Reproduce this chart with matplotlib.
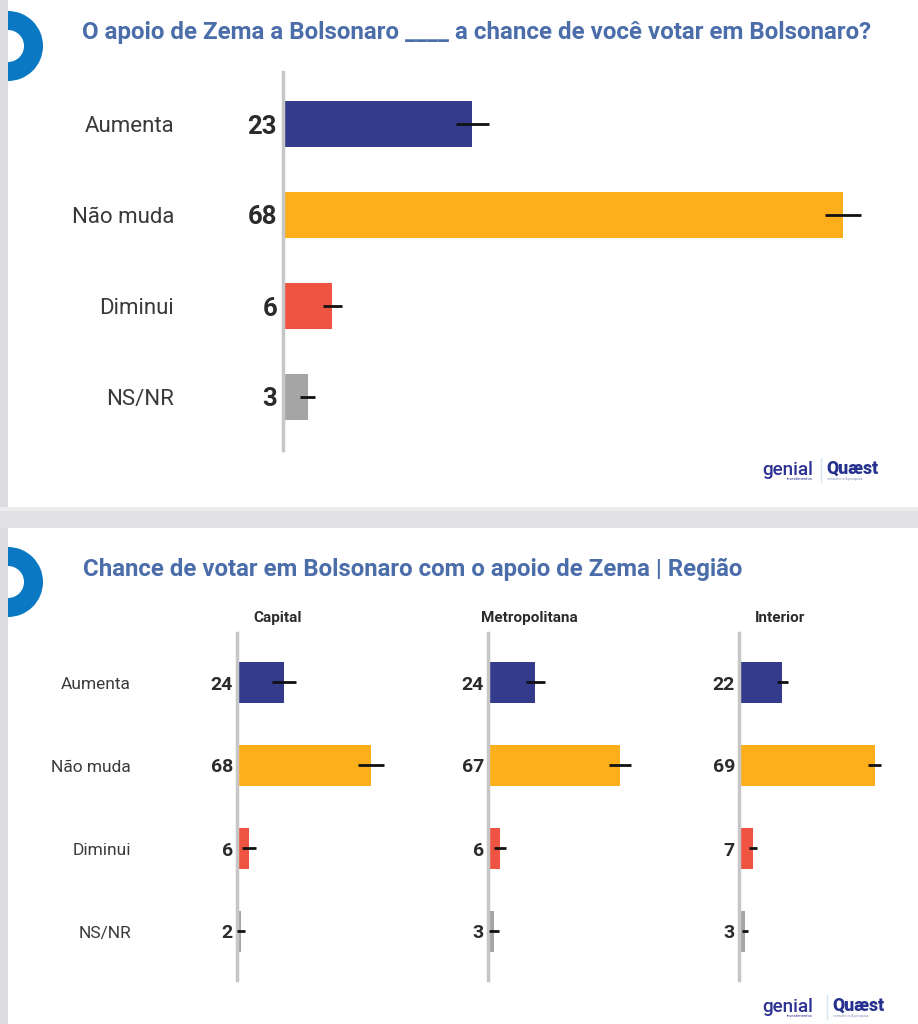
import matplotlib
matplotlib.use("Agg")
import matplotlib.pyplot as plt
from matplotlib.patches import Rectangle, Wedge
from matplotlib.transforms import blended_transform_factory as blend

plt.rcParams['font.family'] = ['Roboto', 'DejaVu Sans']

# ---------------- data ----------------
categories = ["Aumenta", "Não muda", "Diminui", "NS/NR"]
colors = ["#343b8c", "#fdaf1b", "#ee5441", "#a5a5a5"]

title_top = "O apoio de Zema a Bolsonaro ____ a chance de você votar em Bolsonaro?"
total_values = [23, 68, 6, 3]
total_errors = [2.0, 2.2, 1.2, 0.9]

title_bottom = "Chance de votar em Bolsonaro com o apoio de Zema | Região"
regions = ["Capital", "Metropolitana", "Interior"]
capital_values = [24, 68, 6, 2]
capital_errors = [6.1, 6.6, 3.6, 2.0]
metro_values = [24, 67, 6, 3]
metro_errors = [4.8, 5.6, 3.0, 2.4]
interior_values = [22, 69, 7, 3]
interior_errors = [2.8, 3.3, 2.0, 1.4]
region_values = [capital_values, metro_values, interior_values]
region_errors = [capital_errors, metro_errors, interior_errors]

# ---------------- figure ----------------
W, H = 918, 1024
fig = plt.figure(figsize=(W / 100, H / 100), dpi=100)
fig.patch.set_facecolor("#dfdfe3")

bg = fig.add_axes([0, 0, 1, 1], zorder=0)
bg.set_xlim(0, W)
bg.set_ylim(H, 0)
bg.axis("off")

# cards
bg.add_patch(Rectangle((8, 0), W - 8, 507, facecolor="white", edgecolor="none", zorder=0.5))
bg.add_patch(Rectangle((8, 528), W - 8, H - 528, facecolor="white", edgecolor="none", zorder=0.5))
# rings
ring_color = "#0a78c2"
for cy in (46, 582):
    bg.add_patch(Wedge((8, cy), 35, 0, 360, width=19, facecolor=ring_color, edgecolor="none", zorder=1))
# left strip over the rings
bg.add_patch(Rectangle((0, 0), 8, H, facecolor="#dcdce0", edgecolor="none", zorder=2))
# separator shadow
bg.add_patch(Rectangle((0, 507), W, 21, facecolor="#e1e1e5", edgecolor="none", zorder=2))
bg.add_patch(Rectangle((0, 507), W, 4, facecolor="#ebebee", edgecolor="none", zorder=2))

title_color = "#4b6eaa"
renderer = fig.canvas.get_renderer()


def fitted_text(x, y, s, target_w, size, **kw):
    t = bg.text(x, y, s, fontsize=size, **kw)
    w = t.get_window_extent(renderer).width
    t.set_fontsize(size * target_w / w)
    return t


fitted_text(82, 33, title_top, 794, 17, color=title_color, fontweight="bold",
            ha="left", va="center", zorder=3)
fitted_text(83, 569, title_bottom, 665, 15, color=title_color, fontweight="bold",
            ha="left", va="center", zorder=3)


def logo(x, y, qx):
    fitted_text(x, y, "genial", 51, 14, color="#2c3192", ha="left", va="center",
                fontweight="medium", zorder=3)
    bg.text(x + 51, y + 9, "investimentos", fontsize=3, color="#2c3192", ha="right",
            va="center", zorder=3)
    bg.plot([qx - 5, qx - 5], [y - 12, y + 12], color="#d3e6f2", lw=1, zorder=3)
    fitted_text(qx, y - 1, "Quæst", 52, 12, color="#27328f", fontweight="black",
                ha="left", va="center", zorder=3)
    bg.text(qx + 1, y + 9, "consultoria & pesquisa", fontsize=2.5, color="#8a90b8",
            ha="left", va="center", zorder=3)


logo(762, 470, 826)
logo(762, 1007, 832)

label_color = "#3a3a3a"
value_color = "#2b2b2b"


def fax(left, right, top, bottom):
    return fig.add_axes([left / W, 1 - bottom / H, (right - left) / W, (bottom - top) / H], zorder=2)


def style_axis(ax):
    ax.set_facecolor("none")
    for s in ("top", "right", "bottom"):
        ax.spines[s].set_visible(False)
    ax.spines["left"].set_color("#c6c6c6")
    ax.spines["left"].set_linewidth(2.5)
    ax.set_xticks([])
    ax.set_yticks([])


# ---------------- top chart ----------------
scale_top = 8.23  # px per unit
spacing_top = 91
axL, axR, axT, axB = 283, 905, 72, 450
ax = fax(axL, axR, axT, axB)
style_axis(ax)
ypos = list(range(len(categories)))
ax.barh(ypos, total_values, height=46 / spacing_top, color=colors, zorder=2)
ax.errorbar(total_values, ypos, xerr=total_errors, fmt="none", ecolor="#111111",
            elinewidth=2, capsize=0, zorder=3)
ax.set_xlim(0, (axR - axL) / scale_top)
ax.set_ylim(3 + (axB - 397) / spacing_top, -(124 - axT) / spacing_top)
tr = blend(bg.transData, ax.transData)
dy_top = 2.5 / spacing_top
for i, (c, v) in enumerate(zip(categories, total_values)):
    ax.text(174, i + dy_top, c, transform=tr, ha="right", va="center", fontsize=16,
            color=label_color)
    ax.text(277, i + dy_top, str(v), transform=tr, ha="right", va="center", fontsize=18.5,
            fontweight="bold", color=value_color)

# ---------------- bottom charts ----------------
scale_b = 1.97
spacing_b = 83
axis_x = [237, 488, 739]
bT, bB = 633, 980
dy_b = 2.5 / spacing_b
for k, (reg, vals, errs) in enumerate(zip(regions, region_values, region_errors)):
    x0 = axis_x[k]
    a = fax(x0, x0 + 170, bT, bB)
    style_axis(a)
    a.barh(ypos, vals, height=41 / spacing_b, color=colors, zorder=2)
    a.errorbar(vals, ypos, xerr=errs, fmt="none", ecolor="#111111",
               elinewidth=2, capsize=0, zorder=3)
    a.set_xlim(0, 170 / scale_b)
    a.set_ylim(3 + (bB - 931) / spacing_b, -(682 - bT) / spacing_b)
    trb = blend(bg.transData, a.transData)
    for i, v in enumerate(vals):
        a.text(x0 - 4, i + dy_b, str(v), transform=trb, ha="right", va="center",
               fontsize=14, fontweight="bold", color=value_color)
    bg.text(x0 + 41, 618, reg, ha="center", va="center", fontsize=11,
            fontweight="bold", color="#2b2b2b", zorder=3)
    if k == 0:
        for i, c in enumerate(categories):
            a.text(131, i + dy_b, c, transform=trb, ha="right", va="center",
                   fontsize=12.5, color=label_color)

fig.savefig("out.png", dpi=100, facecolor=fig.get_facecolor())
